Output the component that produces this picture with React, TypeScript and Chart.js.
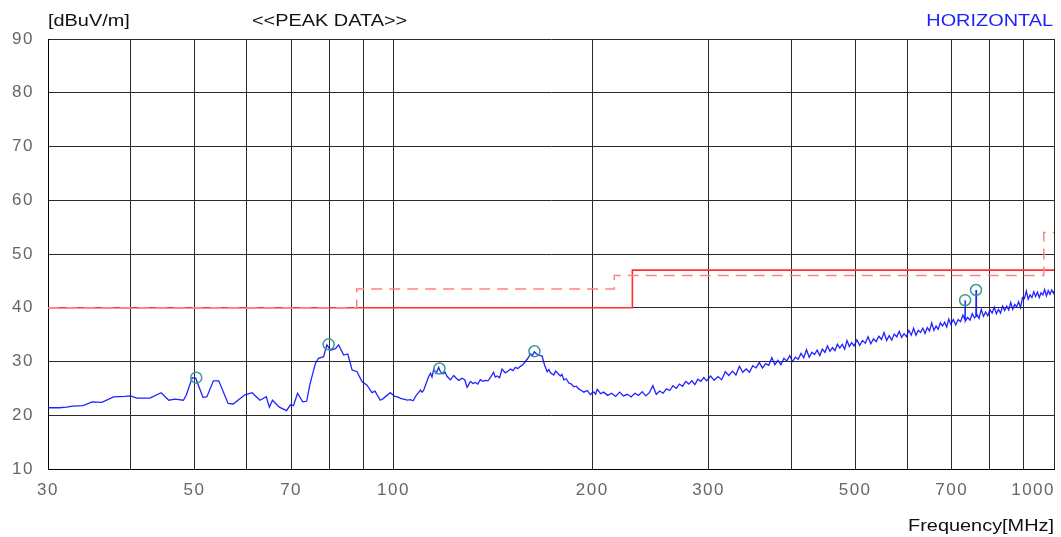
import React, { useEffect, useRef } from "react";
import { Chart, registerables } from "chart.js";

Chart.register(...registerables);

// ---- axes ----
const X_MIN = 30;
const X_MAX = 1000;
const Y_MIN = 10;
const Y_MAX = 90;
const xGridValues = [30, 40, 50, 60, 70, 80, 90, 100, 200, 300, 400, 500, 600, 700, 800, 900, 1000];
const xTickLabels = [30, 50, 70, 100, 200, 300, 500, 700, 1000];
const yTickLabels = [10, 20, 30, 40, 50, 60, 70, 80, 90];

// ---- texts ----
const unitLabel = "[dBuV/m]";
const titleLabel = "<<PEAK DATA>>";
const polarityLabel = "HORIZONTAL";
const xAxisLabel = "Frequency[MHz]";

// ---- limit lines [MHz, dBuV/m] ----
const limitSolid: [number, number][] = [[30, 40], [230, 40], [230, 47], [1000, 47]];
const limitDashed: [number, number][] = [
  [30, 40], [88, 40], [88, 43.5], [216, 43.5], [216, 46], [965, 46], [965, 54], [1000, 54],
];

// ---- peak markers ----
const peakMarkers: [number, number][] = [
  [50.3, 27.0], [79.8, 33.2], [117.4, 28.7], [163.5, 31.9], [733.6, 41.4], [762, 43.3],
];

// ---- measured trace (30–103 MHz) ----
const traceLow: [number, number][] = [
  [30, 21.4], [31.2, 21.4], [32.0, 21.5], [32.7, 21.7], [33.9, 21.8], [35.0, 22.5], [36.2, 22.4],
  [37.7, 23.4], [39.2, 23.5], [40.0, 23.6], [40.9, 23.2], [42.8, 23.2], [44.5, 24.2], [45.7, 22.8],
  [46.7, 23.0], [48.1, 22.8], [48.6, 23.8], [49.6, 27.0], [50.2, 26.9], [51.5, 23.3], [52.2, 23.45],
  [53.4, 26.4], [54.4, 26.4], [56.2, 22.2], [57.2, 22.1], [59.6, 23.8], [61.1, 24.2], [62.8, 22.8],
  [64.2, 23.45], [64.9, 21.5], [65.6, 22.8], [67.2, 21.5], [68.9, 20.85], [69.8, 21.9], [70.6, 21.8],
  [71.6, 24.1], [72.9, 22.5], [73.9, 22.6], [74.8, 25.9], [76.2, 29.65], [77.0, 30.6], [78.4, 30.9],
  [79.3, 33.1], [80.3, 32.1], [81.7, 32.4], [82.6, 33.1], [84.1, 31.2], [85.3, 31.4], [86.6, 28.4],
  [88.1, 28.1], [89.6, 26.25], [91.2, 25.6], [92.8, 24.2], [93.8, 24.5], [95.5, 22.8], [96.5, 23.1],
  [98.9, 24.2], [100.6, 23.45], [101.3, 23.45], [102.5, 23.15],
];

// ---- measured trace (103–206 MHz) ----
const traceMid: [number, number][] = [
  [103.6, 23.0], [105.0, 22.8], [106.1, 22.9], [107.1, 22.7], [108.3, 23.7], [109.9, 24.7], [110.5, 24.3],
  [111.1, 24.6], [112.2, 26.1], [113.1, 27.2], [113.8, 27.8], [114.4, 27.1], [115.1, 28.6], [116.0, 27.8],
  [117.1, 28.9], [117.8, 28.1], [118.9, 27.7], [119.7, 28.0], [120.6, 27.2], [122.0, 26.6], [123.4, 27.4],
  [124.5, 26.9], [125.6, 26.5], [127.0, 26.9], [128.2, 26.6], [129.3, 25.2], [130.8, 26.3], [132.0, 25.9],
  [133.1, 26.1], [134.2, 25.8], [135.4, 26.6], [136.5, 26.3], [137.8, 26.5], [139.0, 26.4], [140.2, 27.0],
  [141.8, 28.0], [142.6, 27.1], [143.5, 27.3], [144.8, 27.0], [146.0, 28.6], [147.7, 27.9], [149.0, 28.2],
  [150.4, 28.6], [151.7, 28.3], [153.0, 28.9], [154.3, 28.7], [155.7, 29.1], [157.0, 29.4], [158.4, 30.0],
  [159.8, 30.6], [161.2, 31.4], [162.4, 31.2], [163.5, 31.8], [164.7, 31.4], [166.0, 31.2], [167.9, 31.0],
  [169.3, 29.4], [170.9, 28.1], [171.9, 28.5], [172.9, 27.9], [174.9, 27.5], [176.0, 28.2], [177.0, 27.9],
  [179.0, 27.3], [180.0, 27.6], [181.1, 26.6], [182.7, 26.8], [184.3, 26.0], [186.0, 25.8], [187.5, 25.3],
  [189.2, 25.4], [190.8, 24.9], [192.5, 24.6], [194.2, 24.3], [196.5, 24.6], [198.8, 23.8], [200.0, 24.2],
  [201.1, 24.3], [202.3, 23.9], [203.5, 24.8], [205.9, 24.0],
];

// ---- measured trace (206–1000 MHz) ----
const traceHigh: [number, number][] = [
  [208, 24.3], [211, 23.7], [214, 24.1], [217, 23.5], [220, 24.3], [223, 23.6], [226, 23.9], [229, 23.4],
  [232, 24.1], [235, 23.7], [238, 24.4], [241, 23.6], [244, 24.2], [247, 25.5], [250, 23.9], [253, 24.5],
  [256, 24.1], [259, 24.9], [262, 24.6], [265, 25.5], [268, 25.0], [271, 25.8], [274, 25.4], [277, 26.3],
  [280, 25.8], [283, 26.4], [286, 25.7], [289, 26.7], [292, 26.3], [295, 27.0], [298, 26.4],
  [302, 27.3], [306, 26.5], [310, 27.2], [314, 26.6], [318, 28.1], [322, 27.4], [326, 28.2], [330, 27.5],
  [334, 29.1], [338, 28.0], [342, 28.6], [346, 28.0], [350, 29.2], [354, 28.8], [358, 29.8], [362, 28.8],
  [366, 29.6], [370, 29.3], [374, 30.7], [378, 29.4], [382, 30.2], [386, 29.4], [390, 30.6], [394, 30.1],
  [398, 31.1], [402, 30.0], [406, 30.8], [410, 30.4], [414, 31.5], [418, 30.7], [422, 32.2], [426, 30.8],
  [430, 31.7], [434, 31.3], [438, 32.1], [442, 31.1], [446, 32.3], [450, 31.7], [454, 32.9], [458, 31.9],
  [462, 32.6], [466, 32.0], [470, 33.2], [474, 32.5], [478, 33.2], [482, 32.3], [486, 33.9], [490, 32.8],
  [494, 33.5], [498, 32.9],
  [503, 34.0], [508, 33.0], [513, 33.9], [518, 33.4], [523, 34.6], [528, 33.3], [533, 34.2], [538, 33.7],
  [543, 34.7], [548, 34.1], [553, 35.4], [558, 33.9], [563, 34.8], [568, 34.0], [573, 35.1], [578, 34.6],
  [583, 35.6], [588, 34.5], [593, 35.2], [598, 34.6], [603, 35.8], [608, 34.9], [613, 36.2], [618, 34.9],
  [623, 35.8], [628, 35.4], [633, 36.2], [638, 35.2], [643, 36.3], [648, 35.7], [653, 37.2], [658, 35.8],
  [663, 36.6], [668, 36.0], [673, 37.2], [678, 36.6], [683, 37.3], [688, 36.4], [693, 37.9], [698, 36.9],
  [704, 37.8], [710, 36.8], [716, 37.8], [722, 37.4], [728, 38.6], [733.2, 37.8], [733.6, 41.4], [734.0, 37.5],
  [740, 38.2], [746, 37.7], [752, 38.9], [758, 38.1], [761.6, 38.4], [762, 43.3], [762.4, 38.3], [764, 38.9],
  [770, 38.0], [776, 39.7], [782, 38.4], [788, 39.2], [794, 38.5], [800, 39.6], [806, 39.0], [812, 40.1],
  [818, 38.9], [824, 39.7], [830, 39.0], [836, 40.3], [842, 39.5], [848, 40.3], [854, 39.6], [860, 41.0],
  [866, 39.7], [872, 40.6], [878, 40.2], [884, 41.1], [890, 40.0], [896, 41.9], [902, 41.7], [908, 43.1],
  [914, 41.6], [920, 42.4], [926, 41.9], [932, 43.0], [938, 42.1], [944, 42.9], [950, 41.9], [956, 42.8],
  [962, 42.4], [968, 43.4], [974, 42.2], [980, 43.2], [986, 42.5], [992, 43.3], [998, 42.7], [1000, 43.1],
];

const toPts = (arr: [number, number][]) => arr.map(([x, y]) => ({ x, y }));

const SANS = '"Liberation Sans", Arial, sans-serif';
const STRETCH = 1.17;

const textPlugin = {
  id: "emiTexts",
  afterDraw(chart: any) {
    const ctx: CanvasRenderingContext2D = chart.ctx;
    const xs = chart.scales.x;
    const ys = chart.scales.y;
    const area = chart.chartArea;
    ctx.save();
    // tick labels
    ctx.fillStyle = "#666";
    ctx.font = `17px ${SANS}`;
    (ctx as any).letterSpacing = "1.5px";
    ctx.textBaseline = "middle";
    ctx.textAlign = "right";
    for (const v of yTickLabels) {
      ctx.fillText(String(v), 34, ys.getPixelForValue(v));
    }
    ctx.textAlign = "left";
    for (const v of xTickLabels) {
      const s = String(v);
      const w = ctx.measureText(s).width;
      const px = xs.getPixelForValue(v);
      let left = px - w / 2;
      if (left + w > area.right + 1) left = area.right + 1 - w;
      ctx.fillText(s, left, 490);
    }
    (ctx as any).letterSpacing = "0px";
    ctx.textBaseline = "alphabetic";
    ctx.font = `17px ${SANS}`;
    const drawText = (t: string, x: number, y: number, align: CanvasTextAlign, color: string) => {
      ctx.save();
      ctx.translate(x, y);
      ctx.scale(STRETCH, 1);
      ctx.textAlign = align;
      ctx.fillStyle = color;
      ctx.fillText(t, 0, 0);
      ctx.restore();
    };
    drawText(unitLabel, 48, 26, "left", "#111");
    drawText(titleLabel, 252, 26, "left", "#111");
    drawText(polarityLabel, 1053, 26, "right", "#1f1fff");
    drawText(xAxisLabel, 1054, 531, "right", "#111");
    ctx.restore();
  },
};

export default function App() {
  const ref = useRef<HTMLCanvasElement | null>(null);
  useEffect(() => {
    if (!ref.current) return;
    const chart = new Chart(ref.current, {
      type: "line",
      data: {
        datasets: [
          {
            label: "peaks",
            data: toPts(peakMarkers),
            showLine: false,
            pointRadius: 5.5,
            pointStyle: "circle",
            pointBorderColor: "#3a9a94",
            pointBackgroundColor: "rgba(0,0,0,0)",
            pointBorderWidth: 1.5,
            borderColor: "#3a9a94",
          },
          {
            label: "trace",
            data: toPts([...traceLow, ...traceMid, ...traceHigh]),
            borderColor: "rgba(10,10,255,0.9)",
            borderWidth: 1.3,
            pointRadius: 0,
            tension: 0,
          },
          {
            label: "limit dashed",
            data: toPts(limitDashed),
            borderColor: "rgba(255,130,130,1)",
            borderWidth: 1.5,
            borderDash: [11, 7],
            pointRadius: 0,
            tension: 0,
          },
          {
            label: "limit",
            data: toPts(limitSolid),
            borderColor: "#ff3030",
            borderWidth: 1.6,
            pointRadius: 0,
            tension: 0,
          },
        ],
      },
      options: {
        responsive: false,
        animation: false,
        events: [],
        layout: { padding: { left: 48, top: 39, right: 7, bottom: 68 } },
        plugins: { legend: { display: false }, tooltip: { enabled: false } },
        scales: {
          x: {
            type: "logarithmic",
            min: X_MIN,
            max: X_MAX,
            afterBuildTicks: (axis: any) => {
              axis.ticks = xGridValues.map((v) => ({ value: v }));
            },
            afterFit: (s: any) => {
              s.height = 0;
            },
            ticks: { display: false },
            grid: { color: "#2a2a2a", lineWidth: 1, drawTicks: false },
            border: { color: "#000", width: 1 },
          },
          y: {
            type: "linear",
            min: Y_MIN,
            max: Y_MAX,
            ticks: { display: false, stepSize: 10 },
            afterFit: (s: any) => {
              s.width = 0;
            },
            grid: { color: "#2a2a2a", lineWidth: 1, drawTicks: false },
            border: { color: "#000", width: 1 },
          },
        },
      },
      plugins: [textPlugin],
    });
    return () => chart.destroy();
  }, []);
  return (
    <div style={{ position: "fixed", left: 0, top: 0, width: 1061, height: 537, background: "#fff" }}>
      <canvas ref={ref} width={1061} height={537} />
    </div>
  );
}
